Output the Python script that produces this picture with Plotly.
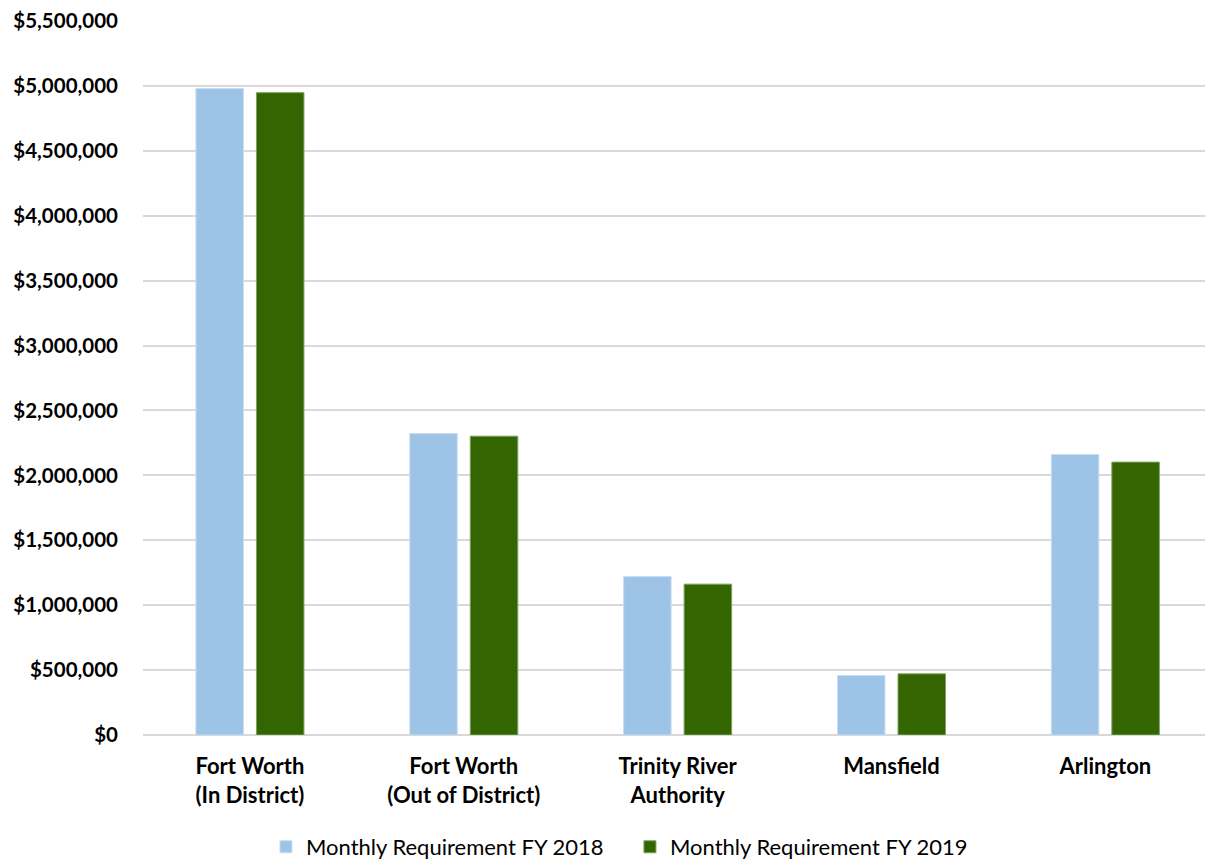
import plotly.graph_objects as go

categories = ["Fort Worth<br>(In District)", "Fort Worth<br>(Out of District)",
              "Trinity River<br>Authority", "Mansfield", "Arlington"]
fy2018 = [4980000, 2323000, 1221000, 458000, 2161000]
fy2019 = [4948000, 2302000, 1162000, 471000, 2102000]
series_names = ["Monthly Requirement FY 2018", "Monthly Requirement FY 2019"]

FONT = "Lato"

fig = go.Figure()
fig.add_trace(go.Bar(x=categories, y=fy2018, name=series_names[0],
                     marker=dict(color="#9DC3E6", line=dict(color="#C9DEF2", width=1))))
fig.add_trace(go.Bar(x=categories, y=fy2019, name=series_names[1],
                     marker=dict(color="#336600", line=dict(color="#7FA060", width=1))))

fig.update_layout(
    width=1205, height=859,
    margin=dict(l=143, r=0, t=21, b=124),
    paper_bgcolor="white", plot_bgcolor="white",
    barmode="group", bargap=0.434, bargroupgap=0.215,
    font=dict(family=FONT, color="black"),
    showlegend=True,
    legend=dict(orientation="h", x=0.2207, xanchor="left", xref="container",
                y=0.014, yanchor="middle", yref="container",
                font=dict(family=FONT, size=22, color="black"),
                itemwidth=30, entrywidth=319, traceorder="normal"),
)
fig.update_xaxes(
    range=[-0.5, 4.466], showgrid=False, showline=False, zeroline=False,
    tickfont=dict(family=FONT, size=22, color="black", weight="bold"),
    ticks="", ticklabelstandoff=16,
)
fig.update_yaxes(
    range=[0, 5500000], dtick=500000, tick0=0, tickformat="$,.0f",
    showgrid=True, gridcolor="#D9D9D9", gridwidth=1.5,
    zeroline=True, zerolinecolor="#D9D9D9", zerolinewidth=1.5,
    showline=False, ticks="", ticklabelstandoff=24,
    tickfont=dict(family=FONT, size=20.5, color="black", weight="bold"),
)

fig.write_html("out.html")
